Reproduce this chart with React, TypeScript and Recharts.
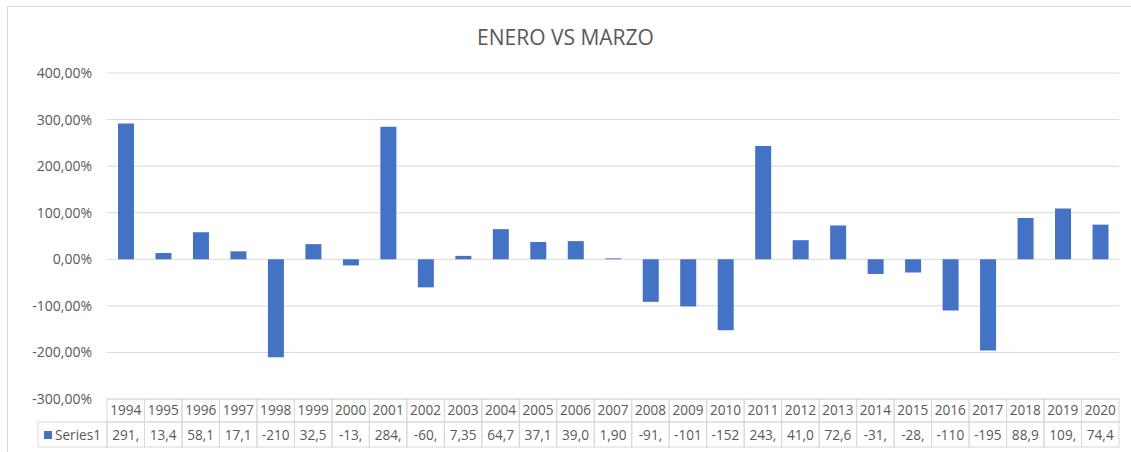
import React from "react";
import { BarChart, Bar, XAxis, YAxis, CartesianGrid } from "recharts";

const years = [
  "1994", "1995", "1996", "1997", "1998", "1999", "2000", "2001", "2002", "2003",
  "2004", "2005", "2006", "2007", "2008", "2009", "2010", "2011", "2012", "2013",
  "2014", "2015", "2016", "2017", "2018", "2019", "2020",
];
const series1 = [
  291.3, 13.42, 58.1, 17.1, -210.5, 32.5, -13.2, 284.4, -60.3, 7.35,
  64.7, 37.1, 39.02, 1.9, -91.4, -101.2, -152.3, 243.1, 41.02, 72.6,
  -31.5, -28.4, -110.2, -195.6, 88.9, 109.3, 74.4,
];
const yTicks = [-300, -200, -100, 0, 100, 200, 300, 400];
const seriesName = "Series1";
const title = "ENERO VS MARZO";

const data = years.map((y, i) => ({ year: y, value: series1[i] }));

const W = 1131;
const H = 452;
const X_H = 30;
const M = { top: 73, right: 12, bottom: 53 - X_H, left: 0 };
const Y_W = 107;
const cellW = (W - M.left - Y_W - M.right) / years.length;
const tableTop = 399;
const rowMid = 422;
const tableBottom = 447;
const grid = "#d9d9d9";
const textC = "#595959";
const FONT = "'Open Sans', sans-serif";
const blue = "#4472C4";
const TFS = 13.6;

const fmtPct = (v: number) => v.toFixed(2).replace(".", ",") + "%";
const cellLabel = (v: number) => v.toFixed(2).replace(".", ",").slice(0, 4);

const TableTick = (props: any) => {
  const { x, payload, index } = props;
  const v = series1[index];
  const left = x - cellW / 2;
  return (
    <g>
      {index === 0 && (
        <g>
          <rect x={38} y={rowMid} width={left - 38} height={tableBottom - rowMid} fill="none" stroke={grid} />
          <rect x={44} y={431} width={8} height={8} fill={blue} />
          <text x={55} y={440} fontSize={TFS} fill={textC} fontFamily={FONT}>{seriesName}</text>
        </g>
      )}
      <rect x={left} y={tableTop} width={cellW} height={rowMid - tableTop} fill="none" stroke={grid} />
      <text x={x} y={415} textAnchor="middle" fontSize={TFS} fill={textC} fontFamily={FONT}>{payload.value}</text>
      <rect x={left} y={rowMid} width={cellW} height={tableBottom - rowMid} fill="none" stroke={grid} />
      <text x={x} y={440} textAnchor="middle" fontSize={TFS} fill={textC} fontFamily={FONT}>{cellLabel(v)}</text>
    </g>
  );
};

export default function App() {
  return (
    <div style={{ position: "fixed", left: 0, top: 0, width: W, height: H, overflow: "hidden", background: "#fff" }}>
      <div style={{ position: "absolute", left: 7, top: 6, width: 1300, height: 600, border: `1px solid ${grid}` }} />
      <div style={{ position: "absolute", left: 0, top: 24, width: W, textAlign: "center", fontFamily: FONT, fontSize: 21, color: textC, lineHeight: "26px" }}>
        {title}
      </div>
      <div style={{ position: "absolute", left: 0, top: 0 }}>
        <BarChart width={W} height={H} data={data} margin={M} barSize={16}>
          <CartesianGrid vertical={false} stroke={grid} />
          <XAxis dataKey="year" height={X_H} axisLine={false} tickLine={false} interval={0} tick={<TableTick />} />
          <YAxis
            width={Y_W}
            domain={[-300, 400]}
            ticks={yTicks}
            axisLine={false}
            tickLine={false}
            tickSize={0}
            tickMargin={15}
            tickFormatter={fmtPct}
            tick={{ fontSize: 14, fill: textC, fontFamily: FONT }}
          />
          <Bar dataKey="value" fill={blue} isAnimationActive={false} />
        </BarChart>
      </div>
    </div>
  );
}
